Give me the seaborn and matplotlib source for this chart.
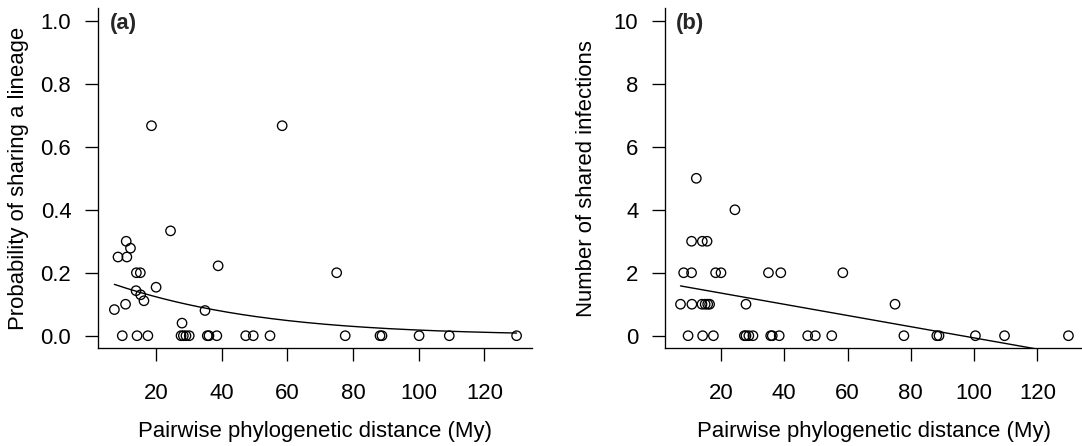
import numpy as np
import pandas as pd
import matplotlib
matplotlib.use("Agg")
import matplotlib.pyplot as plt
import seaborn as sns

# ---- Panel (a): probability of sharing a lineage ----
dist_a = [18.6, 58.4, 24.4, 10.9, 12.2, 8.4, 11.1, 14.0, 15.2, 38.9, 75.0,
          20.0, 13.9, 15.3, 16.3, 10.7, 7.3, 34.9, 27.9,
          9.7, 14.2, 17.5, 27.6, 28.3, 29.1, 30.1, 35.6, 36.1, 38.5,
          47.3, 49.6, 54.7, 77.6, 88.2, 88.8, 100.1, 109.3, 129.8]
prob_a = [0.667, 0.667, 0.333, 0.30, 0.278, 0.25, 0.25, 0.20, 0.20, 0.222, 0.20,
          0.154, 0.143, 0.13, 0.111, 0.10, 0.083, 0.08, 0.04,
          0, 0, 0, 0, 0, 0, 0, 0, 0, 0,
          0, 0, 0, 0, 0, 0, 0, 0, 0]

# ---- Panel (b): number of shared infections ----
dist_b = [12.2, 24.4,
          10.7, 14.1, 15.6,
          8.2, 10.7, 18.3, 20.0, 35.0, 38.9, 58.5,
          7.2, 10.8, 14.0, 15.0, 15.8, 16.4, 27.9, 75.0,
          9.6, 14.2, 17.6, 27.4, 27.9, 28.8, 30.1, 35.7, 36.2, 38.4,
          47.4, 49.8, 55.0, 77.8, 88.2, 88.9, 100.4, 109.6, 129.8]
count_b = [5, 4,
           3, 3, 3,
           2, 2, 2, 2, 2, 2, 2,
           1, 1, 1, 1, 1, 1, 1, 1,
           0, 0, 0, 0, 0, 0, 0, 0, 0, 0,
           0, 0, 0, 0, 0, 0, 0, 0, 0]

# fitted model coefficients
logit_intercept_a, logit_slope_a = -1.449, -0.02557
lin_intercept_b, lin_slope_b = 1.71, -0.0178

xticks = [20, 40, 60, 80, 100, 120]
yticks_a = [0.0, 0.2, 0.4, 0.6, 0.8, 1.0]
yticks_b = [0, 2, 4, 6, 8, 10]
xlabel = "Pairwise phylogenetic distance (My)"
ylabel_a = "Probability of sharing a lineage"
ylabel_b = "Number of shared infections"

sns.set_theme(style="ticks")
plt.rcParams["font.family"] = ["Liberation Sans", "DejaVu Sans"]
FS = 15.9

W, H = 1082, 446
fig = plt.figure(figsize=(W / 100, H / 100), dpi=100)
ax_a = fig.add_axes([98.3 / W, (H - 348.3) / H, 433.4 / W, 340 / H])
ax_b = fig.add_axes([665.3 / W, (H - 348.3) / H, 417.7 / W, 340 / H])

df_a = pd.DataFrame({"dist": dist_a, "val": prob_a})
df_b = pd.DataFrame({"dist": dist_b, "val": count_b})

xs_a = np.linspace(min(dist_a), max(dist_a), 200)
fit_a = pd.DataFrame({"dist": xs_a,
                      "val": 1 / (1 + np.exp(-(logit_intercept_a + logit_slope_a * xs_a)))})
xs_b = np.linspace(min(dist_b), max(dist_b), 200)
fit_b = pd.DataFrame({"dist": xs_b, "val": lin_intercept_b + lin_slope_b * xs_b})

for ax, df, fit, yt, ylab, tag, ylim in [
    (ax_a, df_a, fit_a, yticks_a, ylabel_a, "(a)", (-0.04, 1.04)),
    (ax_b, df_b, fit_b, yticks_b, ylabel_b, "(b)", (-0.4, 10.4)),
]:
    sns.scatterplot(data=df, x="dist", y="val", ax=ax, marker="o", s=46,
                    facecolor="none", edgecolor="black", linewidth=0.95, zorder=3)
    sns.lineplot(data=fit, x="dist", y="val", ax=ax, color="black",
                 linewidth=1.0, zorder=2)
    ax.set_xlim(2.4, 134.4)
    ax.set_ylim(*ylim)
    ax.set_xticks(xticks)
    ax.set_yticks(yt)
    if tag == "(a)":
        ax.set_yticklabels([f"{v:.1f}" for v in yt])
    else:
        ax.set_yticklabels([str(v) for v in yt])
    ax.set_xticklabels([str(v) for v in xticks])
    ax.tick_params(axis="both", length=9.4, width=0.95, color="black",
                   labelsize=FS, labelcolor="black")
    ax.tick_params(axis="x", pad=15.5)
    ax.tick_params(axis="y", pad=10)
    for sp in ["top", "right"]:
        ax.spines[sp].set_visible(False)
    for sp in ["left", "bottom"]:
        ax.spines[sp].set_color("black")
        ax.spines[sp].set_linewidth(0.95)
    ax.set_xlabel(xlabel, fontsize=FS, color="black")
    ax.set_ylabel(ylab, fontsize=FS, color="black")
    ax.xaxis.set_label_coords(0.5, -(437 - 348.3) / 340, transform=ax.transAxes)
    ax.xaxis.label.set_va("baseline")
    ax.text(0.026, 0.955, tag, transform=ax.transAxes, fontsize=FS,
            fontweight="bold", ha="left", va="center")

ax_a.yaxis.set_label_coords(-(98.3 - 29) / 433.4, 0.5)
ax_b.yaxis.set_label_coords(-(665.3 - 597) / 417.7, 0.5)

fig.savefig("out.png", dpi=100)
